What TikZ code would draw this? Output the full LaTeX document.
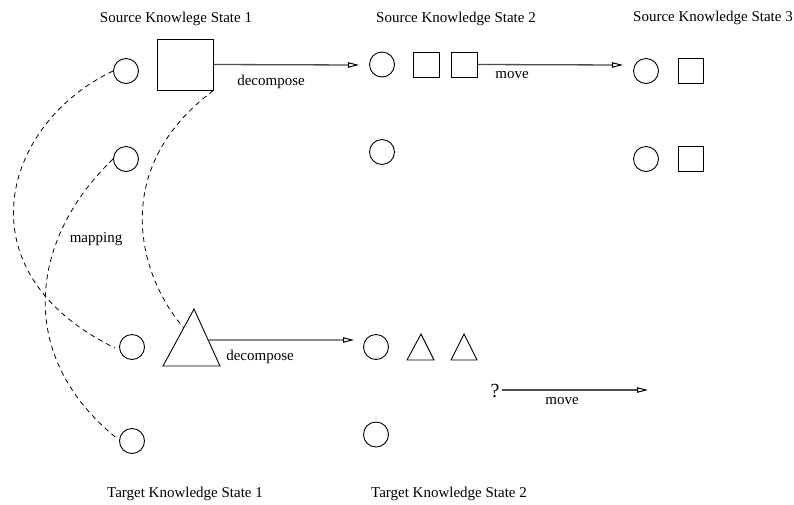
\documentclass[tikz,border=0pt]{standalone}
\usepackage{fontspec}
\setmainfont{Liberation Serif}
\usetikzlibrary{arrows.meta,calc}
\begin{document}
\begin{tikzpicture}[x=1pt,y=-1pt,
  every node/.style={font=\fontsize{15}{18}\selectfont},
  obj/.style={draw,line width=0.9pt,inner sep=0pt},
  circ/.style={obj,circle,minimum size=25pt},
  bigsq/.style={obj,rectangle,minimum width=56pt,minimum height=51pt},
  smsq/.style={obj,rectangle,minimum width=26pt,minimum height=25pt},
  tri/.style={draw,line width=0.9pt,line join=miter},
  lbl/.style={anchor=base,inner sep=0pt},
  flow/.style={draw=black!70,line width=1.3pt,-{Triangle[open,length=11pt,width=5.5pt,line width=1pt,color=black]}},
  mapline/.style={draw,line width=0.8pt,dash pattern=on 5pt off 4pt}
]
\useasboundingbox (0,0) rectangle (794,504);

% titles
\node[lbl] (ts1) at (176,22) {Source Knowlege State 1};
\node[lbl] (ts2) at (456,22) {Source Knowledge State 2};
\node[lbl] (ts3) at (713,21) {Source Knowledge State 3};
\node[lbl] (tt1) at (185,497) {Target Knowledge State 1};
\node[lbl] (tt2) at (449,497) {Target Knowledge State 2};

% source state 1
\node[circ] (s1a) at (126,71) {};
\node[circ] (s1b) at (126,159) {};
\node[bigsq] (sq1) at (185,64.5) {};

% source state 2
\node[circ] (s2a) at (382,64.5) {};
\node[circ] (s2b) at (382,152) {};
\node[smsq] (sq2a) at (426.5,64.5) {};
\node[smsq] (sq2b) at (464,64.5) {};

% source state 3
\node[circ] (s3a) at (646,71) {};
\node[circ] (s3b) at (646,159) {};
\node[smsq,minimum width=25pt] (sq3a) at (690.5,70.5) {};
\node[smsq,minimum width=25pt] (sq3b) at (690.5,159) {};

% target state 1
\node[circ] (t1a) at (132,347) {};
\node[circ] (t1b) at (132,441) {};
\coordinate (tr1a) at (194,309);
\coordinate (tr1l) at (163,366);
\coordinate (tr1r) at (220,366);
\draw[tri] (tr1a) -- (tr1l) -- (tr1r) -- cycle;

% target state 2
\node[circ] (t2a) at (376,347) {};
\node[circ] (t2b) at (376,434.5) {};
\coordinate (tr2a) at (421,334);
\coordinate (tr2l) at (407,360);
\coordinate (tr2r) at (434,360);
\draw[tri] (tr2a) -- (tr2l) -- (tr2r) -- cycle;
\coordinate (tr3a) at (464,334);
\coordinate (tr3l) at (451,360);
\coordinate (tr3r) at (477,360);
\draw[tri] (tr3a) -- (tr3l) -- (tr3r) -- cycle;

% arrows
\coordinate (d1end) at (359,65);
\draw[flow] (sq1.east) -- (d1end);
\node[lbl] (d1lbl) at (271,85) {decompose};

\coordinate (m1end) at (623,65);
\draw[flow] (sq2b.east) -- (m1end);
\node[lbl] (m1lbl) at (512,78) {move};

\coordinate (tr1out) at ($(tr1a)!0.544!(tr1r)$);
\coordinate (d2end) at (354,340);
\draw[flow] (tr1out) -- (d2end);
\node[lbl] (d2lbl) at (260,360) {decompose};

\node[lbl,font=\fontsize{20}{24}\selectfont] (q) at (495,397) {?};
\coordinate (m2start) at (502,390);
\coordinate (m2end) at (648,390);
\draw[flow] (m2start) -- (m2end);
\node[lbl] (m2lbl) at (562,404) {move};

% mapping lines
\draw[mapline] (s1a.west) .. controls (3,123) and (-41.5,271.5) .. ([xshift=-4pt,yshift=-1pt]t1a.west);
\draw[mapline] (s1b.west) .. controls (28.5,240) and (15.4,356.8) .. ([xshift=-3pt,yshift=-3pt]t1b.155);
\coordinate (tr1in) at ($(tr1a)!0.33!(tr1l)$);
\draw[mapline] (sq1.south east) .. controls (107,170) and (140,278) .. (tr1in);
\node[lbl] (maplbl) at (96,242) {mapping};
\end{tikzpicture}
\end{document}
